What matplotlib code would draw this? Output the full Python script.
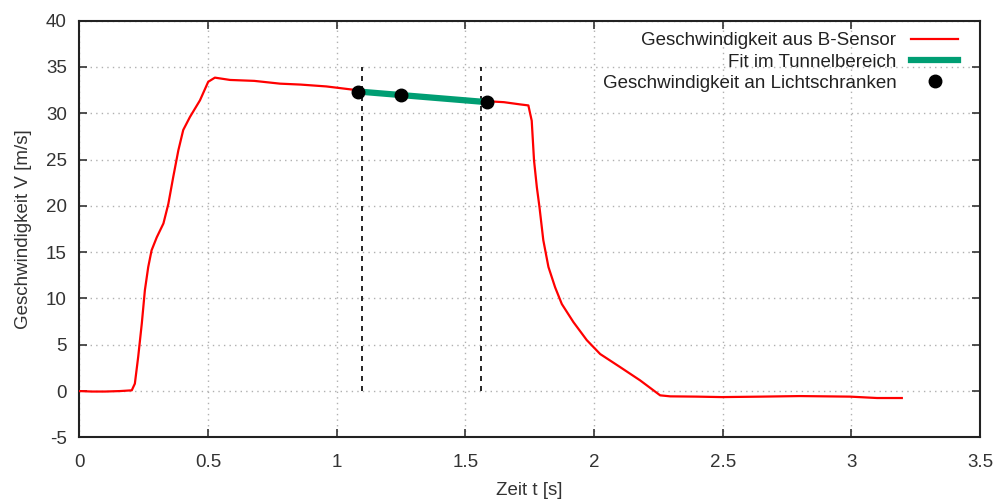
import matplotlib
matplotlib.use("Agg")
import matplotlib.pyplot as plt

plt.rcParams["font.family"] = ["Liberation Sans", "DejaVu Sans"]
plt.rcParams["axes.unicode_minus"] = False

# B-sensor velocity curve
t_sensor = [0.0, 0.05, 0.10, 0.158, 0.204, 0.216, 0.229, 0.243, 0.255, 0.268,
            0.281, 0.301, 0.327, 0.346, 0.365, 0.385, 0.404, 0.430, 0.469, 0.501,
            0.527, 0.586, 0.680, 0.780, 0.860, 0.960, 1.078, 1.084, 1.250, 1.400,
            1.586, 1.650, 1.713, 1.745, 1.758, 1.767, 1.778, 1.788, 1.803, 1.823,
            1.849, 1.875, 1.920, 1.972, 2.024, 2.101, 2.179, 2.257, 2.296, 2.400,
            2.497, 2.650, 2.800, 2.995, 3.100, 3.196]
v_sensor = [0.0, -0.05, -0.05, 0.0, 0.08, 0.8, 3.7, 7.3, 10.9, 13.4,
            15.2, 16.6, 18.1, 20.2, 23.1, 26.0, 28.2, 29.6, 31.4, 33.4,
            33.85, 33.6, 33.5, 33.2, 33.1, 32.9, 32.5, 32.4, 32.1, 31.7,
            31.3, 31.2, 30.96, 30.85, 29.2, 24.9, 22.0, 19.9, 16.3, 13.4,
            11.2, 9.4, 7.45, 5.5, 4.0, 2.6, 1.16, -0.46, -0.57, -0.6,
            -0.65, -0.6, -0.54, -0.6, -0.75, -0.75]

# linear fit in the tunnel section
t_fit = [1.084, 1.586]
v_fit = [32.35, 31.2]

# light-barrier velocities
t_gates = [1.084, 1.250, 1.586]
v_gates = [32.29, 32.0, 31.2]

# light-barrier positions (vertical dashed markers)
t_barriers = [1.098, 1.561]
v_barrier_range = [0, 35]

fig = plt.figure(figsize=(9.97, 5.01), dpi=100)
ax = fig.add_axes([0.0795, 0.127, 0.9035, 0.8317])

for tb in t_barriers:
    ax.plot([tb, tb], v_barrier_range, color="black", lw=1.2,
            linestyle=(0, (3, 3)), zorder=2)

ax.plot(t_sensor, v_sensor, color="#ff0000", lw=1.6,
        label="Geschwindigkeit aus B-Sensor", zorder=3)
ax.plot(t_fit, v_fit, color="#009e73", lw=4.5,
        label="Fit im Tunnelbereich", zorder=4)
ax.plot(t_gates, v_gates, "o", color="black", ms=9, linestyle="none",
        label="Geschwindigkeit an Lichtschranken", zorder=5)

ax.set_xlim(0, 3.5)
ax.set_ylim(-5, 40)
ax.set_xticks([0, 0.5, 1, 1.5, 2, 2.5, 3, 3.5])
ax.set_xticklabels(["0", "0.5", "1", "1.5", "2", "2.5", "3", "3.5"])
ax.set_yticks(range(-5, 41, 5))

ax.grid(True, color="#b0b0b0", linestyle=(0, (1, 3)), lw=1.0)
ax.tick_params(direction="in", length=6, width=1.2, top=True, right=True,
               labelsize=13.5, colors="#333333", pad=9)
ax.tick_params(axis="x", pad=12)
for sp in ax.spines.values():
    sp.set_linewidth(1.5)
    sp.set_color("#222222")

ax.set_xlabel("Zeit t [s]", fontsize=13.5, color="#333333", labelpad=8)
ax.set_ylabel("Geschwindigkeit V [m/s]", fontsize=13.5, color="#333333", labelpad=10)

leg = ax.legend(loc="upper right", bbox_to_anchor=(0.984, 0.990),
                frameon=False, markerfirst=False,
                fontsize=13.5, handlelength=2.5, labelspacing=0.22,
                borderaxespad=0.0, handletextpad=0.8)
for txt in leg.get_texts():
    txt.set_ha("right")
    txt.set_color("#222222")
leg._legend_box.align = "right"

fig.savefig("out.png", dpi=100)
